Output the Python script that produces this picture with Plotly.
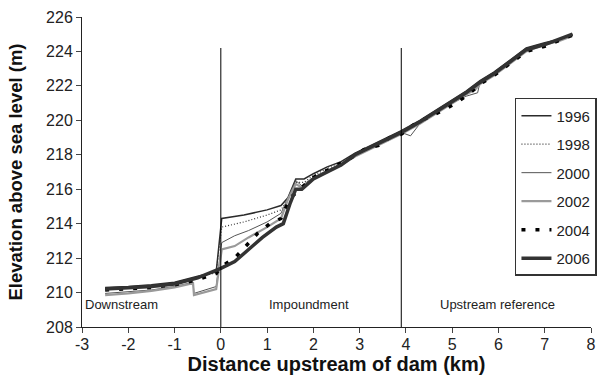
import plotly.graph_objects as go

# ---- data (km upstream of dam, elevation m) ----
x_1996 = [-2.5, -2.0, -1.5, -1.0, -0.5, -0.1, 0.02, 0.5, 1.0, 1.3, 1.45, 1.62, 1.8, 2.0, 2.3, 2.6, 2.9, 3.2, 3.5, 3.9, 4.3, 4.7, 5.0, 5.3, 5.6, 5.9, 6.2, 6.6, 7.0, 7.3, 7.6]
y_1996 = [210.3, 210.35, 210.45, 210.6, 210.95, 211.2, 214.3, 214.5, 214.8, 215.05, 215.5, 216.6, 216.6, 216.9, 217.3, 217.6, 218.1, 218.5, 218.9, 219.4, 220.0, 220.7, 221.2, 221.7, 222.3, 222.8, 223.4, 224.2, 224.5, 224.7, 225.0]

x_1998 = [-2.5, -2.0, -1.5, -1.0, -0.5, -0.1, 0.02, 0.5, 1.0, 1.3, 1.45, 1.62, 1.8, 2.0, 2.3, 2.6, 2.9, 3.2, 3.5, 3.9, 4.3, 4.7, 5.0, 5.3, 5.6, 5.9, 6.2, 6.6, 7.0, 7.3, 7.6]
y_1998 = [210.25, 210.3, 210.4, 210.55, 210.9, 211.15, 213.8, 214.1, 214.5, 214.8, 215.4, 216.4, 216.4, 216.8, 217.2, 217.5, 218.0, 218.4, 218.8, 219.3, 219.9, 220.6, 221.1, 221.6, 222.2, 222.7, 223.3, 224.1, 224.4, 224.6, 224.95]

x_2000 = [-2.5, -2.0, -1.5, -1.0, -0.6, -0.58, -0.1, 0.02, 0.3, 0.6, 1.0, 1.3, 1.45, 1.62, 1.75, 2.0, 2.3, 2.6, 2.9, 3.2, 3.5, 3.9, 4.1, 4.3, 4.7, 5.0, 5.3, 5.45, 5.55, 5.6, 5.9, 6.2, 6.6, 7.0, 7.3, 7.6]
y_2000 = [209.95, 210.05, 210.15, 210.35, 210.6, 209.95, 210.35, 212.9, 213.3, 213.6, 214.1, 214.6, 215.5, 216.5, 216.2, 216.7, 217.1, 217.5, 218.0, 218.4, 218.8, 219.3, 219.1, 219.8, 220.5, 221.0, 221.4, 221.5, 221.6, 222.2, 222.7, 223.3, 224.1, 224.4, 224.6, 224.95]

x_2002 = [-2.5, -2.0, -1.5, -1.0, -0.6, -0.58, -0.1, 0.02, 0.3, 0.6, 1.0, 1.3, 1.45, 1.62, 1.75, 2.0, 2.3, 2.6, 2.9, 3.2, 3.5, 3.9, 4.3, 4.7, 5.0, 5.3, 5.5, 5.6, 5.9, 6.2, 6.6, 7.0, 7.3, 7.6]
y_2002 = [209.85, 209.95, 210.1, 210.3, 210.55, 209.85, 210.2, 212.5, 212.7, 213.2, 213.8, 214.3, 215.4, 216.3, 216.1, 216.6, 217.0, 217.4, 217.9, 218.3, 218.7, 219.2, 219.8, 220.5, 221.0, 221.5, 221.8, 222.1, 222.6, 223.2, 224.0, 224.4, 224.6, 224.9]

x_2004 = [-2.5, -2.0, -1.5, -1.0, -0.5, -0.1, 0.0, 0.3, 0.55, 0.8, 1.06, 1.3, 1.5, 1.72, 1.94, 2.23, 2.55, 2.8, 3.09, 3.41, 3.65, 3.9, 4.22, 4.5, 4.82, 5.08, 5.35, 5.6, 5.9, 6.2, 6.6, 7.0, 7.3, 7.6]
y_2004 = [210.15, 210.2, 210.3, 210.45, 210.75, 211.1, 211.5, 212.0, 212.7, 213.45, 214.0, 214.3, 215.5, 216.0, 216.6, 217.0, 217.4, 217.8, 218.3, 218.55, 219.0, 219.2, 219.85, 220.2, 220.6, 221.0, 221.5, 222.1, 222.6, 223.2, 224.0, 224.3, 224.6, 224.95]

x_2006 = [-2.5, -2.0, -1.5, -1.0, -0.5, 0.0, 0.3, 0.6, 0.9, 1.2, 1.35, 1.5, 1.62, 1.75, 2.0, 2.3, 2.6, 2.9, 3.2, 3.5, 3.9, 4.3, 4.7, 5.0, 5.3, 5.6, 5.9, 6.2, 6.6, 7.0, 7.3, 7.6]
y_2006 = [210.2, 210.25, 210.35, 210.5, 210.85, 211.4, 211.8, 212.5, 213.2, 213.8, 214.0, 215.2, 216.0, 216.0, 216.6, 217.0, 217.4, 218.0, 218.4, 218.8, 219.3, 219.9, 220.6, 221.1, 221.6, 222.2, 222.7, 223.3, 224.1, 224.4, 224.7, 225.0]

boundaries_km = [0.0, 3.9]
boundary_top = 224.2
reach_labels = ["Downstream", "Impoundment", "Upstream reference"]
reach_label_x = [-2.15, 1.91, 5.97]
reach_label_y = 209.3

x_ticks = [-3, -2, -1, 0, 1, 2, 3, 4, 5, 6, 7, 8]
x_ticktext = ["-3", "-2", "-1", "0", "1", "2", "3", "4", "5", "6", "7", "8"]
y_ticks = [208, 210, 212, 214, 216, 218, 220, 222, 224, 226]

FONT = "Arial, Liberation Sans, sans-serif"

series = [
    ("1996", x_1996, y_1996, dict(color="#2b2b2b", width=1.5)),
    ("1998", x_1998, y_1998, dict(color="#333333", width=1.2, dash="1px,2px")),
    ("2000", x_2000, y_2000, dict(color="#555555", width=1)),
    ("2002", x_2002, y_2002, dict(color="#9a9a9a", width=2.2)),
    ("2004", x_2004, y_2004, dict(color="#000000", width=3.5, dash="4px,10px")),
    ("2006", x_2006, y_2006, dict(color="#333333", width=3.5)),
]

fig = go.Figure()
for name, xs, ys, line in series:
    fig.add_trace(go.Scatter(x=xs, y=ys, mode="lines", name=name, line=line,
                             legendgroup=name))

for bx in boundaries_km:
    fig.add_shape(type="line", x0=bx, x1=bx, y0=208, y1=boundary_top,
                  xref="x", yref="y", line=dict(color="black", width=1))

for lbl, lx in zip(reach_labels, reach_label_x):
    fig.add_annotation(x=lx, y=reach_label_y, text=lbl, showarrow=False,
                       font=dict(family=FONT, size=13, color="#222"))

fig.update_layout(
    width=606, height=384,
    margin=dict(l=82, r=9, t=17, b=57),
    paper_bgcolor="white", plot_bgcolor="white",
    font=dict(family=FONT, size=14, color="#222"),
    legend=dict(x=1.0117, xanchor="right", y=0.739, yanchor="top",
                bordercolor="#333", borderwidth=1.5, bgcolor="white",
                font=dict(family=FONT, size=15, color="#222"),
                tracegroupgap=6, itemwidth=30),
)
fig.update_xaxes(range=[-3, 8], tickvals=x_ticks, ticktext=x_ticktext,
                 ticks="outside", ticklen=5, ticklabelstandoff=-2,
                 showline=True, linecolor="#222", linewidth=1, showgrid=False,
                 zeroline=False, tickfont=dict(size=16, color="#222"),
                 title=dict(text="<b>Distance upstream of dam (km)</b>",
                            font=dict(size=20, color="#111"), standoff=2))
fig.update_yaxes(range=[208, 226], tickvals=y_ticks, ticks="outside", ticklen=5,
                 showline=True, linecolor="#222", linewidth=1, showgrid=False,
                 zeroline=False, tickfont=dict(size=16, color="#222"),
                 title=dict(text="<b>Elevation above sea level (m)</b>",
                            font=dict(size=18.5, color="#111"), standoff=18))

fig.write_html("out.html")
